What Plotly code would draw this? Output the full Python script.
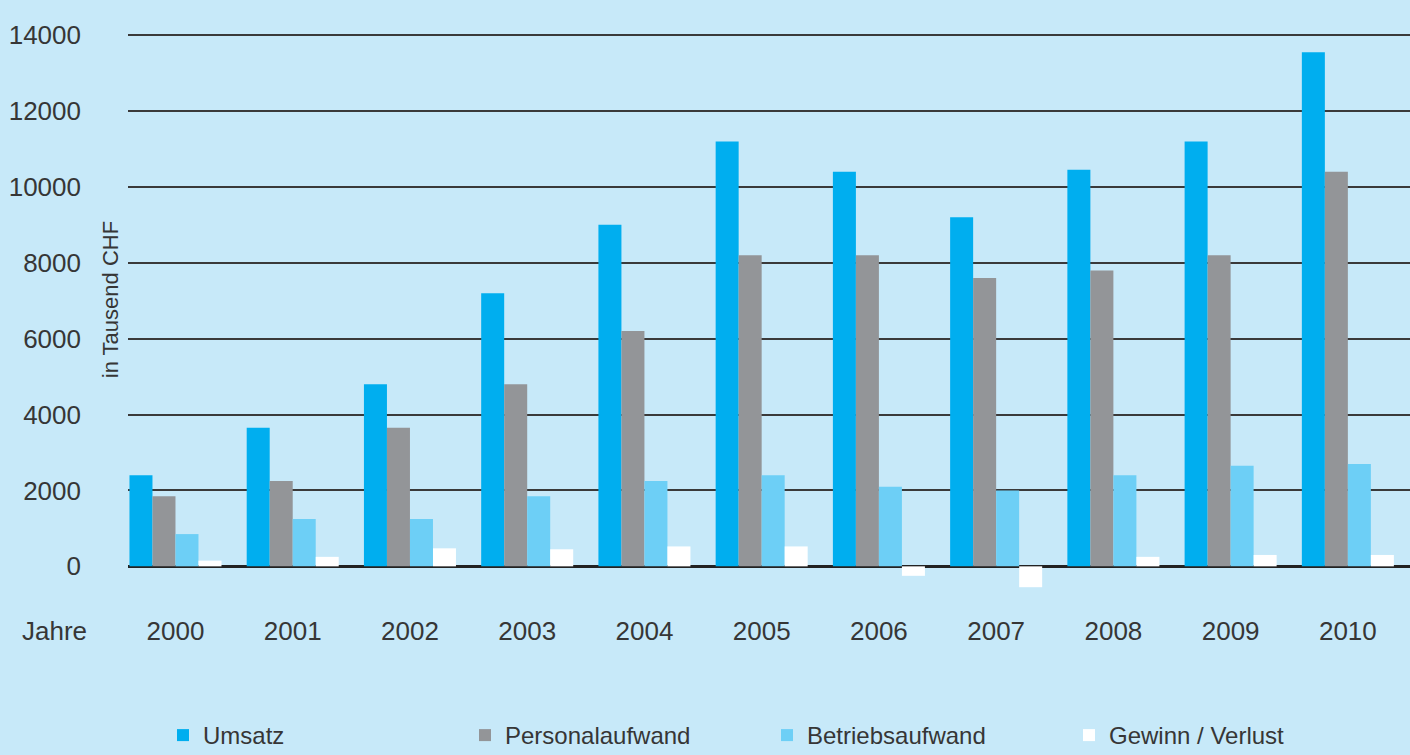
import plotly.graph_objects as go

years = ["2000", "2001", "2002", "2003", "2004", "2005", "2006", "2007", "2008", "2009", "2010"]
umsatz = [2400, 3650, 4800, 7200, 9000, 11200, 10400, 9200, 10450, 11200, 13550]
personalaufwand = [1850, 2250, 3650, 4800, 6200, 8200, 8200, 7600, 7800, 8200, 10400]
betriebsaufwand = [850, 1250, 1250, 1850, 2250, 2400, 2100, 2000, 2400, 2650, 2700]
gewinn_verlust = [150, 250, 475, 450, 525, 525, -250, -550, 250, 300, 300]
y_ticks = [0, 2000, 4000, 6000, 8000, 10000, 12000, 14000]

series = [
    ("Umsatz", umsatz, "#00aeef"),
    ("Personalaufwand", personalaufwand, "#939598"),
    ("Betriebsaufwand", betriebsaufwand, "#6dcff6"),
    ("Gewinn / Verlust", gewinn_verlust, "#ffffff"),
]

FONT = "Liberation Sans, Arial, sans-serif"
BG = "#c7e9f9"
TXT = "#363636"

fig = go.Figure()
x_idx = list(range(len(years)))
for name, vals, color in series:
    fig.add_trace(go.Bar(
        x=x_idx, y=vals, name=name,
        marker=dict(color=color, line=dict(width=0)),
    ))

W, H = 1410, 755
px_per_unit = (566 - 35) / 14000
ymin, ymax = -650, 14030
ml, mr = 128, 0
mt = 35 - (ymax - 14000) * px_per_unit
plot_h = (ymax - ymin) * px_per_unit
plot_w = W - ml - mr
mb = H - mt - plot_h

fig.update_layout(
    width=W, height=H,
    margin=dict(l=ml, r=mr, t=mt, b=mb, pad=0),
    paper_bgcolor=BG, plot_bgcolor=BG,
    barmode="group", bargap=0.215, bargroupgap=0,
    font=dict(family=FONT, size=26, color=TXT),
    showlegend=True,
    legend=dict(
        orientation="h", x=(163 - ml) / plot_w, xanchor="left",
        yref="container", y=1 - 713 / H, yanchor="top",
        entrywidth=257, entrywidthmode="pixels",
        font=dict(family=FONT, size=24, color=TXT),
        bgcolor="rgba(0,0,0,0)", itemsizing="constant",
        tracegroupgap=0,
    ),
    xaxis=dict(
        tickmode="array", tickvals=x_idx, ticktext=years,
        range=[-0.405, 10.53],
        showgrid=False, zeroline=False, showline=False,
        ticks="", ticklabelstandoff=22,
        tickfont=dict(family=FONT, size=26, color=TXT),
        fixedrange=True,
    ),
    yaxis=dict(
        tickmode="array", tickvals=y_ticks,
        ticktext=[str(v) for v in y_ticks],
        range=[ymin, ymax],
        showgrid=True, gridcolor="#3a3a3a", gridwidth=1.5,
        zeroline=True, zerolinecolor="#222222", zerolinewidth=3,
        showline=False, ticks="", ticklabelstandoff=46,
        tickfont=dict(family=FONT, size=26, color=TXT),
        fixedrange=True,
    ),
    annotations=[
        dict(text="in Tausend CHF", textangle=-90, xref="paper", yref="paper",
             x=-(ml - 110) / plot_w, y=1 - (300 - mt) / plot_h,
             xanchor="center", yanchor="middle", showarrow=False,
             font=dict(family=FONT, size=22, color=TXT)),
        dict(text="Jahre", xref="paper", yref="paper",
             x=-(ml - 20) / plot_w, y=1 - (631 - mt) / plot_h,
             xanchor="left", yanchor="middle", showarrow=False,
             font=dict(family=FONT, size=26, color=TXT)),
    ],
)

fig.write_html(
    "out.html",
    config={"displayModeBar": False},
    post_script="document.body.style.margin='0';document.body.style.background='#c7e9f9';",
)
